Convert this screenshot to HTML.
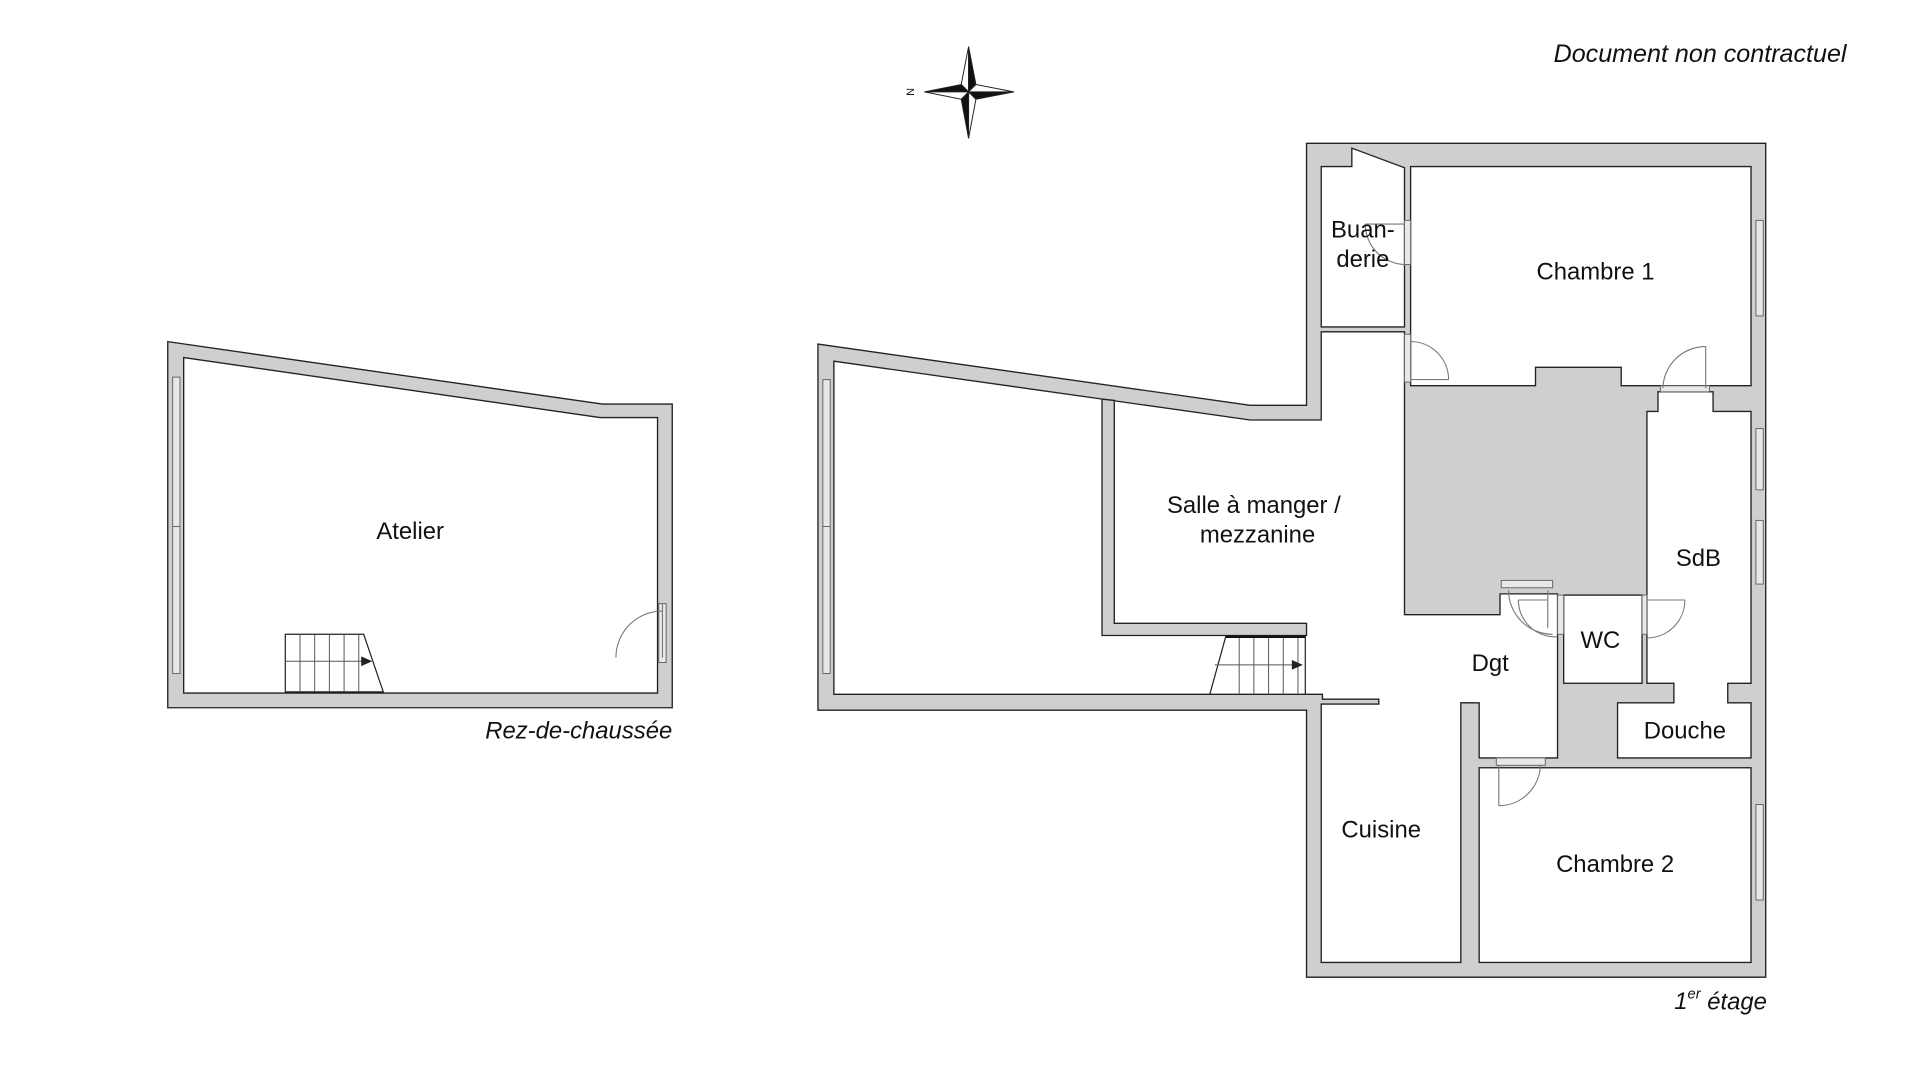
<!DOCTYPE html>
<html><head><meta charset="utf-8"><style>
html,body{margin:0;padding:0;background:#fff;}
svg{display:block;}
text{font-family:"Liberation Sans",sans-serif;fill:#111;}
</style></head><body>
<svg width="1920" height="1080" viewBox="0 0 1568 882" preserveAspectRatio="none" xmlns="http://www.w3.org/2000/svg">
<rect width="1568" height="882" fill="#fff"/>
<g stroke="#222" stroke-width="1.1" stroke-linejoin="miter">
<polygon points="137,279 492,330 549,330 549,578 137,578" fill="#cfcfcf"/>
<polygon points="150,292 490,341 537,341 537,566 150,566" fill="#fff"/>
<polygon points="668,281 1021,331 1067,331 1067,117 1442,117 1442,798 1067,798 1067,580 668,580" fill="#cfcfcf"/>
<polygon points="681,295 1021,343 1079,343 1079,271 1147,271 1147,502 1225,502 1225,485 1272,485 1272,619 1208,619 1208,574 1193,574 1193,786 1079,786 1079,575 1126,575 1126,571 1080,571 1080,567 681,567" fill="#fff"/>
<polygon points="1079,136 1104,136 1104,121 1147,137 1147,267 1079,267" fill="#fff"/>
<polygon points="1152,136 1430,136 1430,315 1324,315 1324,300 1254,300 1254,315 1152,315" fill="#fff"/>
<polygon points="1345,336 1354,336 1354,320 1399,320 1399,336 1430,336 1430,558 1411,558 1411,574 1430,574 1430,619 1321,619 1321,574 1367,574 1367,558 1345,558" fill="#fff"/>
<rect x="1277" y="486" width="64" height="72" fill="#fff"/>
<rect x="1208" y="627" width="222" height="159" fill="#fff"/>
<polygon points="900,326 910,327 910,509 1067,509 1067,519 900,519" fill="#cfcfcf"/>
</g>
<g fill="#e8e8e8" stroke="#666" stroke-width="0.8">
<rect x="141" y="308" width="6" height="122"/><rect x="141" y="430" width="6" height="120"/>
<rect x="672" y="310" width="6" height="120"/><rect x="672" y="430" width="6" height="120"/>
<rect x="1434" y="180" width="6" height="78"/>
<rect x="1434" y="350" width="6" height="50"/><rect x="1434" y="425" width="6" height="52"/>
<rect x="1434" y="657" width="6" height="78"/>
<rect x="538" y="493" width="6" height="48"/>
<rect x="1147" y="180" width="5" height="36"/><rect x="1147" y="273" width="5" height="39"/>
<rect x="1356" y="315" width="40" height="5"/>
<rect x="1226" y="474" width="42" height="6"/>
<rect x="1272" y="486" width="5" height="32"/><rect x="1341" y="486" width="4" height="32"/>
<rect x="1222" y="619" width="40" height="6"/>
</g>
<g fill="none" stroke="#777" stroke-width="0.9">
<path d="M1115,183 A33,33 0 0 0 1148,216"/><line x1="1115" y1="183" x2="1147" y2="183"/>
<path d="M1152,279 A31,31 0 0 1 1183,310"/><line x1="1152" y1="310" x2="1183" y2="310"/>
<path d="M1358,317 A35,35 0 0 1 1393,283"/><line x1="1393" y1="283" x2="1393" y2="317"/>
<path d="M1232,482 A36,36 0 0 0 1268,518"/><line x1="1264" y1="482" x2="1264" y2="513"/>
<path d="M1240,490 A30,30 0 0 0 1272,520"/><line x1="1240" y1="490" x2="1264" y2="490"/>
<path d="M1376,490 A31,31 0 0 1 1345,521"/><line x1="1345" y1="490" x2="1376" y2="490"/>
<path d="M1224,658 A34,34 0 0 0 1258,625"/><line x1="1224" y1="625" x2="1224" y2="658"/>
<path d="M503,537 A38,38 0 0 1 541,499"/><line x1="541" y1="493" x2="541" y2="537"/>
</g>
<g stroke="#555" stroke-width="0.8" fill="#fff">
<polygon points="233,518 297,518 313,565 233,565" stroke="#222" stroke-width="1"/>
<line x1="245" y1="518" x2="245" y2="565"/><line x1="257" y1="518" x2="257" y2="565"/><line x1="269" y1="518" x2="269" y2="565"/><line x1="281" y1="518" x2="281" y2="565"/><line x1="293" y1="518" x2="293" y2="565"/>
<line x1="233" y1="540" x2="300" y2="540"/>
</g>
<polygon points="295,536 304,540 295,544" fill="#222"/>
<g stroke="#555" stroke-width="0.8" fill="#fff">
<polygon points="1001,520 1066,520 1066,567 988,567" stroke="#222" stroke-width="1"/>
<line x1="1012" y1="520" x2="1012" y2="567"/><line x1="1024" y1="520" x2="1024" y2="567"/><line x1="1036" y1="520" x2="1036" y2="567"/><line x1="1048" y1="520" x2="1048" y2="567"/><line x1="1060" y1="520" x2="1060" y2="567"/>
<line x1="992" y1="543" x2="1062" y2="543"/>
</g>
<line x1="1001" y1="520" x2="1066" y2="520" stroke="#111" stroke-width="2"/>
<polygon points="1055,539 1064,543 1055,547" fill="#222"/>
<g stroke="#222" stroke-width="0.8">
<polygon points="791,38 785,69 791,75" fill="#fff"/><polygon points="791,38 797,69 791,75" fill="#111"/>
<polygon points="791,113 797,81 791,75" fill="#fff"/><polygon points="791,113 785,81 791,75" fill="#111"/>
<polygon points="755,75 785,69 791,75" fill="#111"/><polygon points="755,75 785,81 791,75" fill="#fff"/>
<polygon points="828,75 797,81 791,75" fill="#111"/><polygon points="828,75 797,69 791,75" fill="#fff"/>
</g>
<text x="744" y="75" font-size="9" text-anchor="middle" dominant-baseline="central" transform="rotate(-90 744 75)">N</text>
<g font-size="19.5" text-anchor="middle" dominant-baseline="central">
<text x="335" y="434">Atelier</text>
<text x="1024" y="413">Salle à manger /</text>
<text x="1027" y="437">mezzanine</text>
<text x="1113" y="188">Buan-</text>
<text x="1113" y="212">derie</text>
<text x="1303" y="222">Chambre 1</text>
<text x="1387" y="456">SdB</text>
<text x="1307" y="523">WC</text>
<text x="1217" y="542">Dgt</text>
<text x="1376" y="597">Douche</text>
<text x="1128" y="678">Cuisine</text>
<text x="1319" y="706">Chambre 2</text>
</g>
<g font-style="italic" text-anchor="end" dominant-baseline="central">
<text x="1508" y="44" font-size="20.5">Document non contractuel</text>
<text x="549" y="597" font-size="19.5">Rez-de-chaussée</text>
<text x="1443" y="818" font-size="19.5">1<tspan font-size="12" dy="-6">er</tspan><tspan dy="6"> étage</tspan></text>
</g>
</svg>
</body></html>
